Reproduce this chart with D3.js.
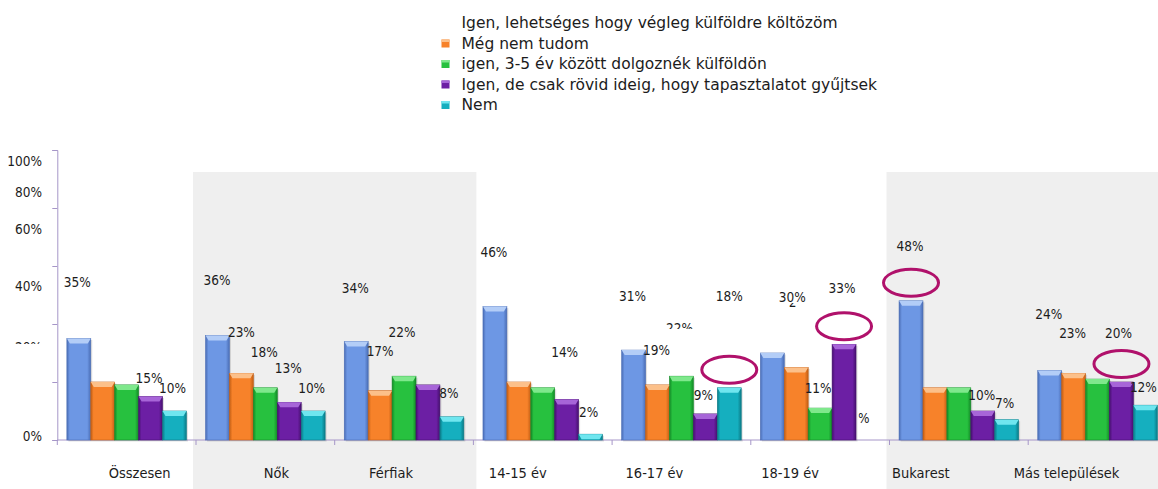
<!DOCTYPE html>
<html>
<head>
<meta charset="utf-8">
<script src="https://cdn.jsdelivr.net/npm/d3@7"></script>
<style>
  body { margin: 0; background: #fff; }
  svg { display: block; }
  text { fill: #1c1c1c; }
</style>
</head>
<body>
<svg id="chart" width="1158" height="489"></svg>
<script>
// Data
const categories = ["Összesen", "Nők", "Férfiak", "14-15 év", "16-17 év", "18-19 év", "Bukarest", "Más települések"];
const seriesNames = [
    "Igen, lehetséges hogy végleg külföldre költözöm",
    "Még nem tudom",
    "igen, 3-5 év között dolgoznék külföldön",
    "Igen, de csak rövid ideig, hogy tapasztalatot gyűjtsek",
    "Nem"
];
const permanentMove = [35, 36, 34, 46, 31, 30, 48, 24];
const dontKnowYet   = [20, 23, 17, 20, 19, 25, 18, 23];
const work3to5      = [19, 18, 22, 18, 22, 11, 18, 21];
const shortStay     = [15, 13, 19, 14, 9, 33, 10, 20];
const noAnswer      = [10, 10, 8, 2, 18, 0, 7, 12];
const yTickValues = [0, 20, 40, 60, 80, 100];
const shadedGroups = [["Nők", "Férfiak"], ["Bukarest", "Más települések"]];
const highlighted = [["16-17 év", 4], ["18-19 év", 3], ["Bukarest", 0], ["Más települések", 3]];
const labelledBars = [
    ["Összesen", 0], ["Összesen", 3], ["Összesen", 4],
    ["Nők", 0], ["Nők", 1], ["Nők", 2], ["Nők", 3], ["Nők", 4],
    ["Férfiak", 0], ["Férfiak", 1], ["Férfiak", 2], ["Férfiak", 4],
    ["14-15 év", 0], ["14-15 év", 3], ["14-15 év", 4],
    ["16-17 év", 0], ["16-17 év", 1], ["16-17 év", 2], ["16-17 év", 3], ["16-17 év", 4],
    ["18-19 év", 0], ["18-19 év", 1], ["18-19 év", 2], ["18-19 év", 3], ["18-19 év", 4],
    ["Bukarest", 0], ["Bukarest", 3], ["Bukarest", 4],
    ["Más települések", 0], ["Más települések", 1], ["Más települések", 3], ["Más települések", 4]
];

const allSeries = [permanentMove, dontKnowYet, work3to5, shortStay, noAnswer];

const colors = [
    { base: "#6d97e4", light: "#b3cdf7", dark: "#4a6db5" },
    { base: "#f7822a", light: "#fcc08a", dark: "#c25e14" },
    { base: "#27c13f", light: "#7fe88c", dark: "#138a27" },
    { base: "#6c1fa4", light: "#a765d8", dark: "#46106f" },
    { base: "#15afbf", light: "#6fe6ef", dark: "#0b7b87" }
];

const svg = d3.select("#chart");
const labelFont = '"DejaVu Sans Condensed", "DejaVu Sans", sans-serif';

// Scales
const x0 = d3.scaleBand().domain(categories).range([57.3, 57.3 + 8 * 138.7]);
const x1 = d3.scaleBand().domain(d3.range(5)).range([0, x0.bandwidth()]).paddingOuter(0.4);
const y = d3.scaleLinear().domain([0, 100]).range([440, 150]);
const barCx = (c, s) => x0(c) + x1(s) + x1.bandwidth() / 2;
const valueOf = (c, s) => allSeries[s][categories.indexOf(c)];

// Shaded panels
svg.append("g")
    .selectAll("rect")
    .data(shadedGroups)
    .join("rect")
    .attr("x", d => x0(d[0]) - 3)
    .attr("y", 172)
    .attr("width", d => Math.min(x0(d[1]) + x0.bandwidth() + 3, 1158) - (x0(d[0]) - 3))
    .attr("height", 489 - 172)
    .attr("fill", "#efefef");

// Gradients
const defs = svg.append("defs");
colors.forEach((c, i) => {
    const g = defs.append("linearGradient").attr("id", "grad" + i)
        .attr("x1", "0").attr("x2", "1").attr("y1", "0").attr("y2", "0");
    g.append("stop").attr("offset", "0").attr("stop-color", c.dark);
    g.append("stop").attr("offset", "0.12").attr("stop-color", c.base);
    g.append("stop").attr("offset", "0.85").attr("stop-color", c.base);
    g.append("stop").attr("offset", "1").attr("stop-color", c.dark);
});

// Axes
const axisColor = "#a696c8";
const yAxis = svg.append("g")
    .attr("transform", "translate(57.3,0)")
    .call(d3.axisLeft(y).tickValues(yTickValues).tickSize(5).tickFormat(""));
yAxis.selectAll("path, line").attr("stroke", axisColor);

svg.append("line")
    .attr("x1", 57.3).attr("x2", 1158)
    .attr("y1", y(0)).attr("y2", y(0))
    .attr("stroke", axisColor);

svg.append("g")
    .selectAll("line")
    .data(categories)
    .join("line")
    .attr("x1", d => x0(d)).attr("x2", d => x0(d))
    .attr("y1", y(0)).attr("y2", y(0) + 5)
    .attr("stroke", axisColor);

// Y tick labels (placed as in the original, shifted from their ticks)
const yLabelShift = [1, -30, -33, -32, -11, 16];
yTickValues.forEach((v, i) => {
    const t = svg.append("text")
        .attr("x", 42)
        .attr("y", y(v) + yLabelShift[i])
        .attr("text-anchor", "end")
        .style("font-family", labelFont)
        .style("font-size", "13.5px")
        .text(v + "%");
    if (v === 20) {
        const id = "clipY20";
        defs.append("clipPath").attr("id", id).append("rect")
            .attr("x", 0).attr("y", y(v) + yLabelShift[i] - 10)
            .attr("width", 60).attr("height", 2);
        t.attr("clip-path", `url(#${id})`);
    }
});

// Bars
const bars = [];
categories.forEach(c => d3.range(5).forEach(s => bars.push({ c, s, v: valueOf(c, s) })));
const barG = svg.append("g");
const drawn = bars.filter(d => d.v > 0);

barG.selectAll("rect.shadow")
    .data(drawn)
    .join("rect")
    .attr("class", "shadow")
    .attr("x", d => x0(d.c) + x1(d.s) + 1.5)
    .attr("y", d => y(d.v) + 1.5)
    .attr("width", x1.bandwidth())
    .attr("height", d => y(0) - y(d.v))
    .attr("fill", "rgba(0,0,0,0.12)");

barG.selectAll("rect.bar")
    .data(drawn)
    .join("rect")
    .attr("class", "bar")
    .attr("x", d => x0(d.c) + x1(d.s))
    .attr("y", d => y(d.v))
    .attr("width", x1.bandwidth())
    .attr("height", d => y(0) - y(d.v))
    .attr("fill", d => `url(#grad${d.s})`)
    .attr("stroke", d => colors[d.s].dark)
    .attr("stroke-width", 0.6);

barG.selectAll("path.bevel")
    .data(drawn)
    .join("path")
    .attr("class", "bevel")
    .attr("d", d => {
        const bx = x0(d.c) + x1(d.s), w = x1.bandwidth(), t = y(d.v);
        return `M${bx},${t}L${bx + w},${t}L${bx + w - 3},${t + 5}L${bx + 3},${t + 5}Z`;
    })
    .attr("fill", d => colors[d.s].light);

// Value labels (lift above bar top, horizontal shift, optional clip window)
const labelLift = [51.5, 13.5, 18, 50.6, 36.3, 31, 29.3, 18.3, 48.7, 34.7, 39, 18.8,
    49.6, 42.7, 17.5, 49, 30, 43.7, 14, 86.8, 51, 60.5, 15, 51, 17.3,
    49.8, 11, 11.4, 51.4, 35.3, 44, 13.5];
const labelDx = [-1.5, -1.5, -2, -0.5, 0, -1, -1, -1.5, -1, 0, -2, -3,
    -1, -2, -2, -1, -1, -2, -2, 0, 20, 6, -2, -2, -8,
    -1, -1, -2, -1, -1, -3, -2];
const labelClip = {
    17: { x: -20, y: -10, w: 40, h: 6.5 },
    21: { x: -13, y: -4, w: 7, h: 4.5 },
    24: { x: -1.5, y: -12, w: 14, h: 14 }
};
const labelG = svg.append("g");
labelledBars.forEach(([c, s], i) => {
    const v = valueOf(c, s);
    const cx = barCx(c, s) + labelDx[i];
    const by = y(v) - labelLift[i];
    const t = labelG.append("text")
        .attr("x", cx)
        .attr("y", by)
        .attr("text-anchor", "middle")
        .style("font-family", labelFont)
        .style("font-size", "13.5px")
        .text(v + "%");
    const clip = labelClip[i];
    if (clip) {
        const id = "clipLabel" + i;
        defs.append("clipPath").attr("id", id).append("rect")
            .attr("x", cx + clip.x).attr("y", by + clip.y)
            .attr("width", clip.w).attr("height", clip.h);
        t.attr("clip-path", `url(#${id})`);
    }
});

// Highlight ellipses
svg.append("g")
    .selectAll("ellipse")
    .data(highlighted)
    .join("ellipse")
    .attr("cx", d => barCx(d[0], d[1]))
    .attr("cy", d => y(valueOf(d[0], d[1])) - 18)
    .attr("rx", 27.5)
    .attr("ry", 13.5)
    .attr("fill", "none")
    .attr("stroke", "#b0116b")
    .attr("stroke-width", 3);

// Category labels
const catLabelDx = [13, 11, -13, -25, -27, -30, -38, -31];
svg.append("g")
    .selectAll("text")
    .data(categories)
    .join("text")
    .attr("x", (d, i) => x0(d) + x0.bandwidth() / 2 + catLabelDx[i])
    .attr("y", 478)
    .attr("text-anchor", "middle")
    .style("font-family", labelFont)
    .style("font-size", "14.5px")
    .text(d => d);

// Legend
const legend = svg.append("g").attr("transform", "translate(441.5, 22.5)");
const rows = legend.selectAll("g")
    .data(seriesNames)
    .join("g")
    .attr("transform", (d, i) => `translate(0, ${i * 20.5})`);

rows.filter((d, i) => i > 0).append("rect")
    .attr("x", 0).attr("y", -3.5)
    .attr("width", 8).attr("height", 8)
    .attr("fill", (d, i) => colors[i + 1].base);
rows.filter((d, i) => i > 0).append("rect")
    .attr("x", 0).attr("y", -3.5)
    .attr("width", 8).attr("height", 2.5)
    .attr("fill", (d, i) => colors[i + 1].light);

rows.append("text")
    .attr("x", 20)
    .attr("dy", "0.36em")
    .style("font-family", '"DejaVu Sans", sans-serif')
    .style("font-size", "15.5px")
    .text(d => d);
</script>
</body>
</html>
